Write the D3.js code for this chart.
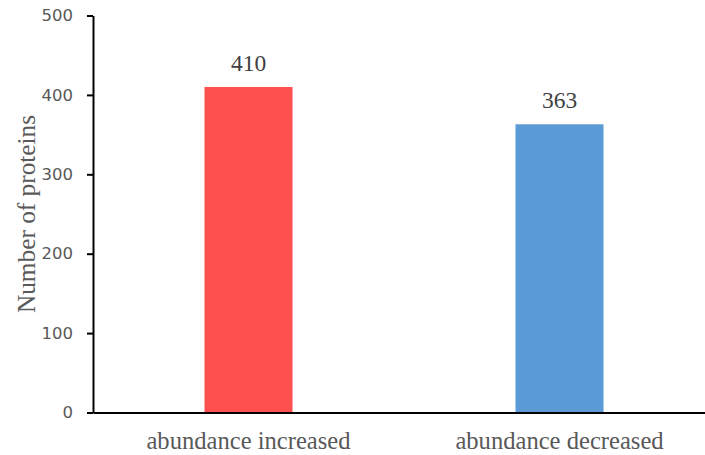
<!DOCTYPE html>
<html>
<head>
<meta charset="utf-8">
<script src="https://cdn.jsdelivr.net/npm/d3@7"></script>
<style>
  html, body { margin: 0; padding: 0; background: #fff; }
  svg { display: block; }
</style>
</head>
<body>
<svg id="chart" width="705" height="455"></svg>
<script>
// Protein counts by abundance change
const categories = ["abundance increased", "abundance decreased"];
const counts = [410, 363];
const barColors = ["#FF5050", "#5B9BD5"];
const yTicks = [0, 100, 200, 300, 400, 500];

const svg = d3.select("#chart");
const plot = { left: 93, right: 715, top: 15.5, bottom: 412.5 };

const x = d3.scaleBand()
  .domain(categories)
  .range([plot.left, plot.right])
  .paddingInner(0.717)
  .paddingOuter(0.3585);

const y = d3.scaleLinear().domain([0, 500]).range([plot.bottom, plot.top]);

// Bars
svg.append("g").selectAll("rect")
  .data(categories)
  .join("rect")
  .attr("x", d => x(d))
  .attr("width", x.bandwidth())
  .attr("y", (d, i) => y(counts[i]))
  .attr("height", (d, i) => y(0) - y(counts[i]))
  .attr("fill", (d, i) => barColors[i]);

// Value labels
svg.append("g").selectAll("text")
  .data(categories)
  .join("text")
  .attr("x", d => x(d) + x.bandwidth() / 2)
  .attr("y", (d, i) => y(counts[i]) - 16)
  .attr("text-anchor", "middle")
  .attr("font-family", "'Liberation Serif', 'Times New Roman', serif")
  .attr("font-size", 23.5)
  .attr("fill", "#404040")
  .text((d, i) => counts[i]);

// Y axis
const yAxis = svg.append("g")
  .attr("transform", `translate(${plot.left},0)`)
  .call(d3.axisLeft(y).tickValues(yTicks).tickSize(6).tickPadding(14).tickSizeOuter(0));
yAxis.select(".domain").attr("stroke", "#000").attr("stroke-width", 2);
yAxis.selectAll(".tick line").attr("stroke", "#000").attr("stroke-width", 2);
yAxis.selectAll(".tick text")
  .attr("font-family", "'DejaVu Sans', sans-serif")
  .attr("font-size", 16.5)
  .attr("fill", "#595959");

// X axis
const xAxis = svg.append("g")
  .attr("transform", `translate(0,${plot.bottom})`)
  .call(d3.axisBottom(x).tickSize(0).tickPadding(19).tickSizeOuter(0));
xAxis.select(".domain").attr("stroke", "#000").attr("stroke-width", 2);
xAxis.selectAll(".tick text")
  .attr("font-family", "'Liberation Serif', 'Times New Roman', serif")
  .attr("font-size", 24.6)
  .attr("fill", "#595959");

// Y axis title
svg.append("text")
  .attr("transform", `translate(35,${(plot.top + plot.bottom) / 2}) rotate(-90)`)
  .attr("text-anchor", "middle")
  .attr("font-family", "'Liberation Serif', 'Times New Roman', serif")
  .attr("font-size", 25.3)
  .attr("fill", "#595959")
  .text("Number of proteins");
</script>
</body>
</html>
